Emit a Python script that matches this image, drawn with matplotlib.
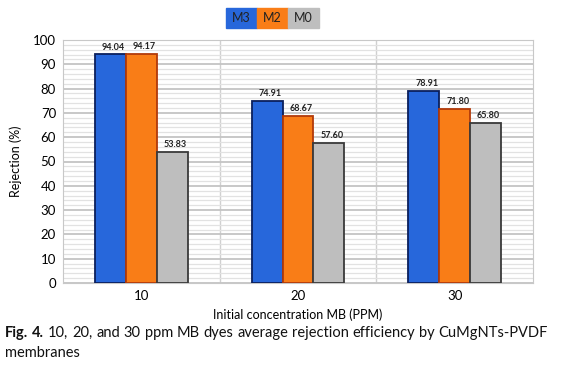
import matplotlib.pyplot as plt
import numpy as np
from matplotlib.ticker import MultipleLocator

# data
groups = ["10", "20", "30"]
series = ["M3", "M2", "M0"]
m3 = [94.04, 74.91, 78.91]
m2 = [94.17, 68.67, 71.80]
m0 = [53.83, 57.60, 65.80]

colors = ["#2767DB", "#F97D17", "#BEBEBE"]
edges = ["#0B1F5C", "#B23A0A", "#3A3A3A"]

plt.rcParams['font.family'] = ['Lato', 'DejaVu Sans']

fig = plt.figure(figsize=(5.61, 3.74), dpi=100)
ax = fig.add_axes([63 / 561, 1 - 283 / 374, 470 / 561, 243 / 374])

x = np.arange(len(groups))
w = 0.197
for i, (vals, c, ec) in enumerate(zip([m3, m2, m0], colors, edges)):
    pos = x + (i - 1) * w
    ax.bar(pos, vals, w, color=c, edgecolor=ec, linewidth=1.3, zorder=3)
    for px, v in zip(pos, vals):
        ax.text(px + 0.02, v + 1.2, f"{v:.2f}", ha='center', va='bottom',
                fontsize=6.5, fontweight='bold', color='#222222', zorder=4)

ax.set_xlim(-0.5, 2.5)
ax.set_ylim(0, 100)
ax.yaxis.set_major_locator(MultipleLocator(10))
ax.yaxis.set_minor_locator(MultipleLocator(2))
ax.grid(axis='y', which='major', color='#C4C4C4', linewidth=1.3, zorder=0)
ax.grid(axis='y', which='minor', color='#E2E2E2', linewidth=0.9, zorder=0)
for b in [0.5, 1.5]:
    ax.axvline(b, color='#D0D0D0', linewidth=1.0, zorder=1)
ax.set_xticks(x)
ax.set_xticklabels(groups)
ax.tick_params(axis='both', which='both', length=0, labelsize=9.5, pad=5)
for s in ax.spines.values():
    s.set_color('#C8C8C8')
ax.set_ylabel("Rejection (%)", fontsize=9, labelpad=8)
ax.set_xlabel("Initial concentration MB (PPM)", fontsize=9, labelpad=5)

# legend as coloured cells on top
cell_x = [226, 257, 288]
for cx, name, c in zip(cell_x, series, colors):
    fig.patches.append(plt.Rectangle((cx / 561, 1 - 28 / 374), 31 / 561, 20 / 374,
                                     transform=fig.transFigure, color=c))
    fig.text((cx + 15.5) / 561, 1 - 18 / 374, name, ha='center', va='center',
             fontsize=9, color='#222222')

# caption, justified on the first line
fig.canvas.draw()
renderer = fig.canvas.get_renderer()
words = [("Fig.", 'bold'), ("4.", 'bold'), ("10,", 'normal'), ("20,", 'normal'),
         ("and", 'normal'), ("30", 'normal'), ("ppm", 'normal'), ("MB", 'normal'),
         ("dyes", 'normal'), ("average", 'normal'), ("rejection", 'normal'),
         ("efficiency", 'normal'), ("by", 'normal'), ("CuMgNTs-PVDF", 'normal')]
left, right = 5, 548
objs = []
total = 0
for wd, wt in words:
    t = fig.text(0, 1 - 333 / 374, wd, fontsize=10.5, fontweight=wt, va='center',
                 ha='left', color='#111111')
    bb = t.get_window_extent(renderer)
    objs.append((t, bb.width))
    total += bb.width
gap = (right - left - total) / (len(words) - 1)
cur = left
for t, wd in objs:
    t.set_x(cur / 561)
    cur += wd + gap
fig.text(left / 561, 1 - 353 / 374, "membranes", fontsize=10.5, va='center',
         ha='left', color='#111111')

fig.savefig("out.png", dpi=100)
